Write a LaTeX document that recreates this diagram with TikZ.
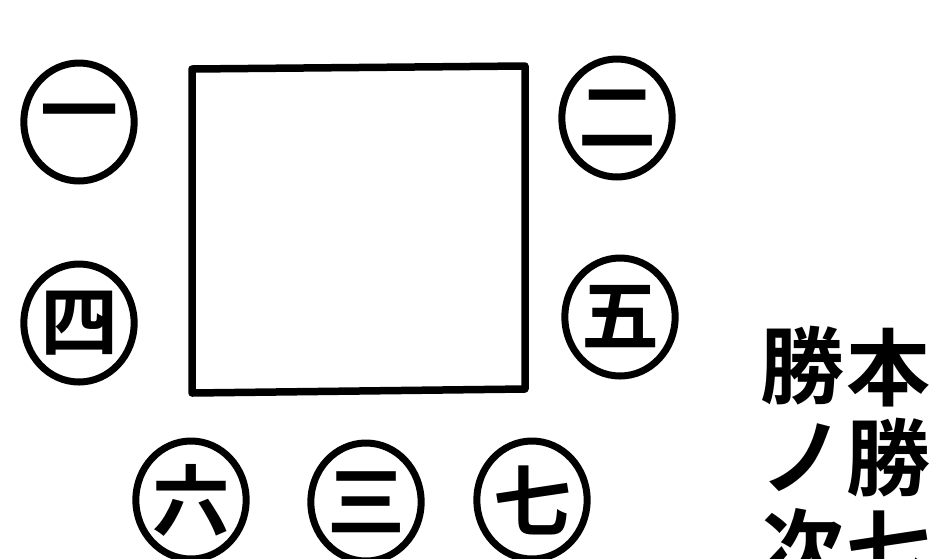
\documentclass[tikz,border=0pt]{standalone}
\usepackage{fontspec}
\newfontfamily\cjk{Noto Sans CJK JP}[BoldFont={* Bold}]
\usetikzlibrary{shapes.geometric}
\begin{document}
\begin{tikzpicture}[x=1pt,y=-1pt,
  piece/.style={ellipse, draw=black, line width=7pt, inner sep=0pt,
    minimum width=100pt, minimum height=118pt,
    font=\cjk\bfseries\fontsize{78}{78}\selectfont},
  board/.style={draw=black, line width=7.5pt, line join=round},
  note/.style={font=\cjk\bfseries\fontsize{84}{84}\selectfont, inner sep=0pt}]
\useasboundingbox (0,0) rectangle (931,558);
\clip (0,0) rectangle (931,558);
\fill[white] (0,0) rectangle (931,558);
% board
\coordinate (tl) at (192,69);
\coordinate (tr) at (525,66);
\coordinate (br) at (525,389);
\coordinate (bl) at (192,393);
\draw[board] (tl) -- (tr) -- (br) -- (bl) -- cycle;
% pieces
\node[piece] (p1) at (79,122) {一};
\node[piece] (p2) at (617,118) {二};
\node[piece] (p4) at (79,323) {四};
\node[piece] (p5) at (620,317) {五};
\node[piece] (p6) at (191,500) {六};
\node[piece] (p3) at (366,502) {三};
\node[piece] (p7) at (532,500) {七};
% note text (vertical, right to left)
\node[note] (n1) at (888,368) {本};
\node[note] (n2) at (888,458) {勝};
\node[note] (n3) at (888,548) {七};
\node[note] (n4) at (802,366) {勝};
\node[note] (n5) at (802,458) {ノ};
\node[note] (n6) at (802,548) {次};
\end{tikzpicture}
\end{document}
